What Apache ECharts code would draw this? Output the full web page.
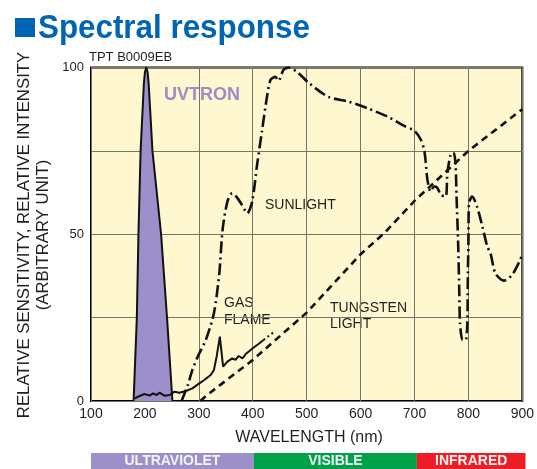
<!doctype html>
<html>
<head>
	<meta charset="UTF-8">
	<title>Spectral response</title>
	<script src="https://cdn.jsdelivr.net/npm/echarts@6/dist/echarts.min.js"></script>
	<style>
		html, body { margin: 0; padding: 0; background: #fff; }
		#chart { width: 537px; height: 469px; }
	</style>
</head>
<body>
<div id="chart"></div>
<script>
	// readings, [wavelength nm, relative value]
	var uvtron = [[179, 0], [185, 25], [188, 50], [192, 75], [198, 95], [200, 98.6], [202.5, 100], [205, 98.6], [207, 95], [214, 75], [230, 50], [241, 25], [251, 0]];
	var gasFlame = [[181, 0.8], [190, 1.5], [199, 2.1], [209, 1.6], [215, 2.3], [222, 1.8], [227, 2.5], [236, 1.6], [246, 1.8], [255, 2.8], [264, 2.5],
		[276, 3], [288, 3.8], [301, 5.3], [310, 6.3], [322, 7.8], [328, 9.3], [333, 13.3], [339, 19.3], [345, 10.3], [353, 11.8], [362, 12.8],
		[368, 12.3], [374, 13.5], [381, 12.8], [387, 14.1], [400, 15.8], [410, 17], [420, 18.3]];
	var gasFlameTail = [[420, 18.3], [440, 20.8]];
	var tungsten = [[303, 0], [313, 1.5], [400, 12.3], [500, 26.5], [600, 44], [645, 50.5], [700, 60], [800, 75], [900, 87.5]];
	var sunlight = [[268, 0], [280, 5], [288, 9.3], [300, 14], [313, 18.3], [328, 26.3], [338, 38.3], [344, 51.3], [353, 59.8], [362, 62.3],
		[371, 61], [380, 58.8], [390, 56.3], [399, 59.8], [408, 70.8], [417, 80.8], [426, 90.8], [433, 96.3], [442, 97.2], [448, 96],
		[457, 99.3], [467, 100], [485, 98.3], [503, 95.5], [540, 91.2], [577, 89.8], [614, 87.7], [651, 85.2], [681, 82.5], [700, 81],
		[712, 78.3], [718, 75.3], [721, 71.3], [724, 66.3], [730, 62.8], [736, 64.3], [742, 64], [749, 61.8], [758, 61.3], [761, 68.3],
		[767, 73.8], [772, 74.5], [776, 71.3], [778, 61.3], [781, 47], [783, 33.3], [784.5, 23.3], [789, 18.3], [795, 18.3], [798, 23.3],
		[799, 38.3], [800, 47], [801, 59.3], [807, 61.3], [816, 58.3], [826, 52.3], [835, 46.3], [841, 44.3], [850, 38.3], [866, 36.1],
		[881, 37.8], [896, 42.3], [900, 44]];

	var bandNames = ['ULTRAVIOLET', 'VISIBLE', 'INFRARED'];
	var bandFrom = [100, 400, 700];
	var bandTo = [400, 700, 900];
	var bandColors = ['#9d90c8', '#00a14b', '#ee1c25'];

	var bands = bandNames.map(function (n, i) {
		return [bandFrom[i], bandTo[i], n];
	});

	var ink = '#231f20';
	var dashDot = [12, 4, 2, 4];

	var chart = echarts.init(document.getElementById('chart'), null, {renderer: 'canvas'});

	var option = {
		animation: false,
		backgroundColor: '#fff',
		grid: [{
			left: 91, right: 11.5, top: 67.5, bottom: 68,
			show: true,
			backgroundColor: '#fef7d0',
			borderColor: '#000',
			borderWidth: 2
		}, {
			left: 91, right: 11.5, top: 453, height: 16
		}],
		xAxis: [{
			type: 'value', min: 100, max: 900, interval: 100,
			axisLine: {show: false},
			axisTick: {show: false},
			axisLabel: {color: ink, fontSize: 14, fontFamily: 'Liberation Sans', margin: 6},
			splitLine: {lineStyle: {color: '#77756a', width: 1}}
		}, {
			type: 'value', min: 100, max: 900, gridIndex: 1, show: false
		}],
		yAxis: [{
			type: 'value', min: 0, max: 100, interval: 25,
			axisLine: {show: false},
			axisTick: {show: false},
			axisLabel: {
				color: ink, fontSize: 13, fontFamily: 'Liberation Sans', margin: 7,
				formatter: function (v) { return v % 50 === 0 ? v : ''; }
			},
			splitLine: {lineStyle: {color: '#77756a', width: 1}}
		}, {
			type: 'value', min: 0, max: 1, gridIndex: 1, show: false
		}],
		series: [{
			name: 'UVTRON', type: 'line', data: uvtron, symbol: 'none',
			lineStyle: {color: '#111', width: 2, join: 'round'},
			areaStyle: {color: '#9d8fca', opacity: 1}
		}, {
			name: 'Tungsten', type: 'line', data: tungsten, symbol: 'none',
			lineStyle: {color: '#111', width: 2.6, type: [7, 5]}
		}, {
			name: 'Gas flame', type: 'line', data: gasFlame, symbol: 'none',
			lineStyle: {color: '#111', width: 2}
		}, {
			name: 'Gas flame tail', type: 'line', data: gasFlameTail, symbol: 'none',
			lineStyle: {color: '#111', width: 2, type: [2, 3]}
		}, {
			name: 'Sunlight', type: 'line', data: sunlight, symbol: 'none', smooth: 0.25,
			lineStyle: {color: '#111', width: 2.6, type: dashDot}
		}, {
			type: 'custom', xAxisIndex: 1, yAxisIndex: 1, data: bands,
			renderItem: function (params, api) {
				var p0 = api.coord([api.value(0), 1]);
				var p1 = api.coord([api.value(1), 0]);
				return {
					type: 'rect',
					shape: {x: p0[0], y: p0[1], width: p1[0] - p0[0], height: p1[1] - p0[1]},
					style: {fill: bandColors[params.dataIndex]},
					textContent: {
						style: {text: bands[params.dataIndex][2], fill: '#f4f4f4', font: 'bold 14px "Liberation Sans"'}
					},
					textConfig: {position: 'inside'}
				};
			}
		}],
		graphic: [
			{type: 'rect', shape: {x: 15, y: 18, width: 20, height: 19}, style: {fill: '#0066b3'}},
			{type: 'text', x: 38, y: 45, style: {text: 'Spectral response', fill: '#0066b3', font: 'bold 33px "Liberation Sans"', textVerticalAlign: 'bottom'}, scaleX: 0.95},
			{type: 'text', x: 89, y: 57, style: {text: 'TPT B0009EB', fill: ink, font: '13px "Liberation Sans"', textVerticalAlign: 'middle'}},
			{type: 'text', x: 202, y: 95, style: {text: 'UVTRON', fill: '#9d8cc8', font: 'bold 18px "Liberation Sans"', textAlign: 'center', textVerticalAlign: 'middle'}},
			{type: 'text', x: 265, y: 205, style: {text: 'SUNLIGHT', fill: ink, font: '14px "Liberation Sans"', textVerticalAlign: 'middle'}},
			{type: 'text', x: 224, y: 312, style: {text: 'GAS\nFLAME', fill: ink, font: '14px "Liberation Sans"', lineHeight: 17, textVerticalAlign: 'middle'}},
			{type: 'text', x: 330, y: 316, style: {text: 'TUNGSTEN\nLIGHT', fill: ink, font: '14px "Liberation Sans"', lineHeight: 16.5, textVerticalAlign: 'middle'}},
			{type: 'text', x: 309, y: 438, style: {text: 'WAVELENGTH (nm)', fill: ink, font: '16px "Liberation Sans"', textAlign: 'center', textVerticalAlign: 'middle'}},
			{type: 'text', x: 34, y: 235, rotation: Math.PI / 2,
				style: {text: 'RELATIVE SENSITIVITY, RELATIVE INTENSITY\n(ARBITRARY UNIT)', fill: ink, font: '16.8px "Liberation Sans"', lineHeight: 18.5, textAlign: 'center', textVerticalAlign: 'middle'}}
		]
	};
	chart.setOption(option);
</script>
</body>
</html>
